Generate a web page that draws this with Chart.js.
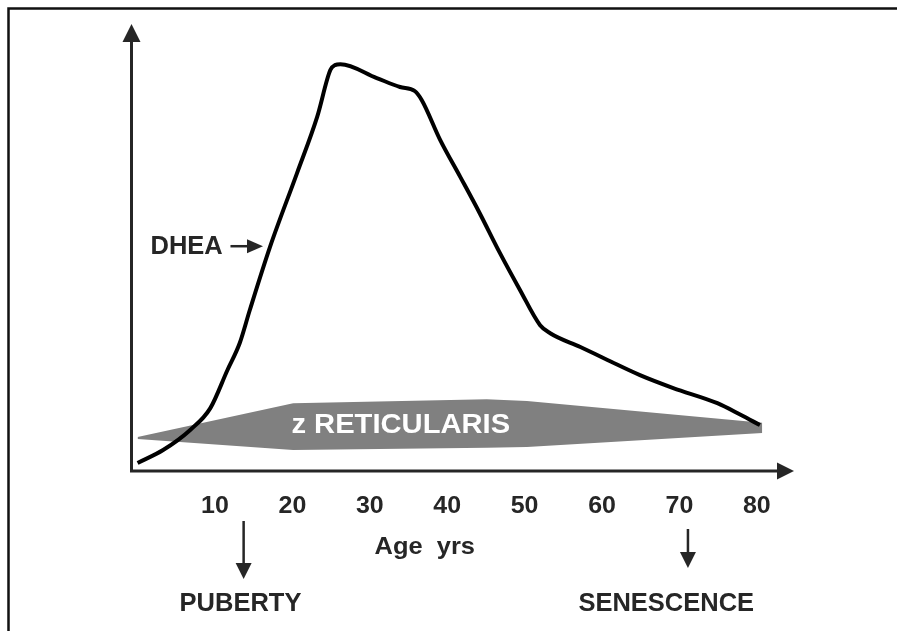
<!DOCTYPE html>
<html>
<head>
<meta charset="utf-8">
<script src="https://cdn.jsdelivr.net/npm/chart.js@4"></script>
<style>
  html, body { margin: 0; padding: 0; background: #fff; }
  #wrap { width: 897px; height: 631px; }
</style>
</head>
<body>
<div id="wrap"><canvas id="chart"></canvas></div>
<script>
// DHEA curve: age (yrs) vs relative level
const dheaAge   = [0, 3.3, 6.8, 9.4, 11.6, 13.2, 14.5, 17.1, 20.6, 23.2, 24.9, 25.5, 26.2, 30.9, 33.9, 35.8, 36.7, 39.1, 41.7, 44.2, 46.8, 49.4, 52.0, 53.3, 57.2, 60.7, 64.9, 69.2, 74.9, 77.9, 80.4];
const dheaLevel = [1.8, 4.7, 9.2, 14.1, 22.6, 28.7, 36.1, 50.2, 66.8, 79.4, 89.9, 91.0, 91.2, 88.1, 86.1, 85.2, 83.2, 74.2, 65.9, 57.8, 48.9, 40.6, 32.7, 30.9, 27.8, 24.9, 21.5, 18.6, 15.2, 12.6, 10.3];

// zona reticularis band (upper and lower edge)
const zrAge    = [0, 20.1, 45.1, 50.3, 80.7];
const zrTop    = [7.6, 15.2, 16.1, 15.7, 10.8];
const zrBottom = [7.2, 4.7, 5.2, 5.4, 8.5];

// x axis tick labels
const tickAges   = [10, 20, 30, 40, 50, 60, 70, 80];
const tickLabels = ['10', '20', '30', '40', '50', '60', '70', '80'];

const toPts = (xs, ys) => xs.map((x, i) => ({ x: x, y: ys[i] }));

const INK = '#262626';
const FONT = '"Liberation Sans", Arial, sans-serif';

function arrowHead(ctx, tipX, tipY, dir, len, half) {
  ctx.beginPath();
  if (dir === 'up') {
    ctx.moveTo(tipX, tipY); ctx.lineTo(tipX - half, tipY + len); ctx.lineTo(tipX + half, tipY + len);
  } else if (dir === 'down') {
    ctx.moveTo(tipX, tipY); ctx.lineTo(tipX - half, tipY - len); ctx.lineTo(tipX + half, tipY - len);
  } else {
    ctx.moveTo(tipX, tipY); ctx.lineTo(tipX - len, tipY - half); ctx.lineTo(tipX - len, tipY + half);
  }
  ctx.closePath();
  ctx.fill();
}

// text slightly wider than the font, like the original artwork
function wideText(ctx, txt, x, y, sx) {
  ctx.save();
  ctx.translate(x, y);
  ctx.scale(sx, 1);
  ctx.fillText(txt, 0, 0);
  ctx.restore();
}

const decorations = {
  id: 'decorations',
  beforeDraw(chart) {
    const ctx = chart.ctx;
    ctx.save();
    ctx.fillStyle = '#fff';
    ctx.fillRect(0, 0, chart.width, chart.height);
    // frame (top + left only)
    ctx.strokeStyle = '#111';
    ctx.lineWidth = 2.5;
    ctx.beginPath();
    ctx.moveTo(8.5, chart.height);
    ctx.lineTo(8.5, 8.5);
    ctx.lineTo(chart.width, 8.5);
    ctx.stroke();
    ctx.restore();
  },
  afterDatasetsDraw(chart) {
    const ctx = chart.ctx;
    const xs = chart.scales.x, ys = chart.scales.y;
    const area = chart.chartArea;
    ctx.save();
    ctx.strokeStyle = INK;
    ctx.fillStyle = INK;

    // axes with arrows
    ctx.lineWidth = 3;
    ctx.beginPath();
    ctx.moveTo(area.left + 0.5, area.bottom);
    ctx.lineTo(area.left + 0.5, area.top + 16);
    ctx.moveTo(area.left - 1, area.bottom);
    ctx.lineTo(area.right - 16, area.bottom);
    ctx.stroke();
    arrowHead(ctx, area.left + 0.5, area.top - 1, 'up', 18, 9);
    arrowHead(ctx, area.right, area.bottom, 'right', 17, 8.5);

    // tick labels
    ctx.textAlign = 'center';
    ctx.textBaseline = 'middle';
    ctx.font = 'bold 24px ' + FONT;
    tickAges.forEach((a, i) => {
      wideText(ctx, tickLabels[i], xs.getPixelForValue(a), area.bottom + 35, 1.04);
    });

    // axis title
    ctx.font = 'bold 24px ' + FONT;
    wideText(ctx, 'Age  yrs', xs.getPixelForValue(37.1), area.bottom + 76, 1.06);

    // band label
    ctx.fillStyle = '#fff';
    ctx.font = 'bold 27px ' + FONT;
    wideText(ctx, 'z RETICULARIS', xs.getPixelForValue(34.0), ys.getPixelForValue(10.2), 1.08);

    // DHEA label with arrow
    ctx.fillStyle = INK;
    ctx.textAlign = 'right';
    ctx.font = 'bold 25px ' + FONT;
    const dy = ys.getPixelForValue(50.4);
    wideText(ctx, 'DHEA', xs.getPixelForValue(11.0), dy + 1, 1.02);
    ctx.lineWidth = 2.5;
    ctx.beginPath();
    ctx.moveTo(xs.getPixelForValue(12.0), dy);
    ctx.lineTo(xs.getPixelForValue(14.2), dy);
    ctx.stroke();
    arrowHead(ctx, xs.getPixelForValue(16.2), dy, 'right', 16, 7);

    // puberty / senescence pointers
    ctx.textAlign = 'center';
    ctx.font = 'bold 25px ' + FONT;
    const pointers = [
      { age: 13.7, label: 'PUBERTY', labelAge: 13.3, y0: 521, y1: 579 },
      { age: 71.1, label: 'SENESCENCE', labelAge: 68.3, y0: 529, y1: 568 }
    ];
    pointers.forEach(p => {
      const px = xs.getPixelForValue(p.age);
      ctx.lineWidth = 2.5;
      ctx.beginPath();
      ctx.moveTo(px, p.y0);
      ctx.lineTo(px, p.y1 - 14);
      ctx.stroke();
      arrowHead(ctx, px, p.y1, 'down', 16, 8);
      wideText(ctx, p.label, xs.getPixelForValue(p.labelAge), 604, 1.02);
    });
    ctx.restore();
  }
};

new Chart(document.getElementById('chart'), {
  type: 'line',
  data: {
    datasets: [
      {
        label: 'DHEA',
        data: toPts(dheaAge, dheaLevel),
        borderColor: '#000',
        borderWidth: 4,
        pointRadius: 0,
        fill: false,
        cubicInterpolationMode: 'monotone'
      },
      {
        label: 'z reticularis top',
        data: toPts(zrAge, zrTop),
        borderWidth: 0,
        borderColor: 'rgba(0,0,0,0)',
        backgroundColor: '#808080',
        pointRadius: 0,
        tension: 0,
        fill: '+1'
      },
      {
        label: 'z reticularis bottom',
        data: toPts(zrAge, zrBottom),
        borderWidth: 0,
        borderColor: 'rgba(0,0,0,0)',
        pointRadius: 0,
        tension: 0,
        fill: false
      }
    ]
  },
  options: {
    responsive: true,
    maintainAspectRatio: false,
    animation: false,
    layout: { padding: { left: 131, right: 103, top: 25, bottom: 160 } },
    plugins: {
      legend: { display: false },
      tooltip: { enabled: false }
    },
    scales: {
      x: { type: 'linear', min: -0.85, max: 84.8, display: false },
      y: { type: 'linear', min: 0, max: 100, display: false }
    }
  },
  plugins: [decorations]
});
</script>
</body>
</html>
